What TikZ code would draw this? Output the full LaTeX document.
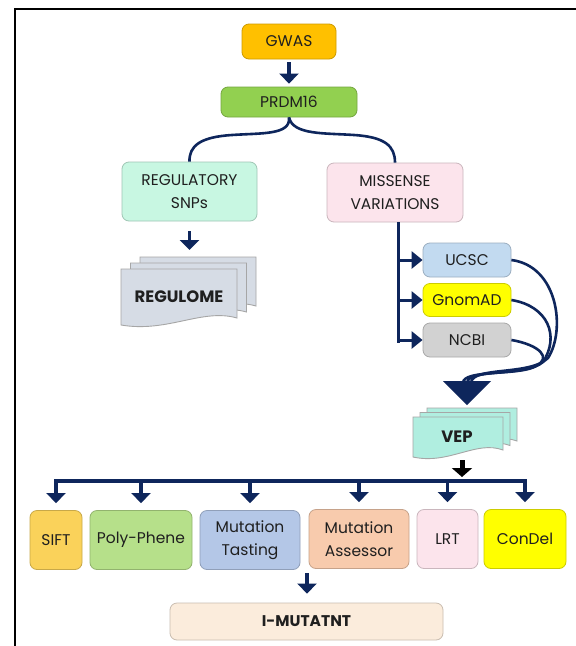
\documentclass[tikz,border=0pt]{standalone}
\usepackage{fontspec}
\setmainfont{Poppins}
\usepackage{xcolor}
\usepackage{tikz}
\usetikzlibrary{calc, arrows.meta, positioning}
\definecolor{navy}{RGB}{14,38,92}
\definecolor{gwasorange}{RGB}{255,192,0}
\definecolor{prdmgreen}{RGB}{146,208,80}
\definecolor{mint}{RGB}{200,247,226}
\definecolor{softpink}{RGB}{252,228,236}
\definecolor{ucscblue}{RGB}{194,218,240}
\definecolor{brightyellow}{RGB}{255,255,0}
\definecolor{ncbigray}{RGB}{210,210,210}
\definecolor{pagegray}{RGB}{214,220,229}
\definecolor{vepaqua}{RGB}{176,238,224}
\definecolor{siftyellow}{RGB}{250,210,90}
\definecolor{polygreen}{RGB}{182,224,138}
\definecolor{steelblue}{RGB}{180,199,231}
\definecolor{peach}{RGB}{248,203,173}
\definecolor{beige}{RGB}{251,236,220}
% stack of three pages with a wavy lower edge
\newcommand{\docstack}[7]{% x0, y0, x1, y1, dx, dy, fill
  \foreach \o in {2,1,0}{
    \draw[draw=black!35, fill=#7, line width=0.9pt]
      ({#1+\o*#5},{#2-\o*#6}) -- ({#3+\o*#5},{#2-\o*#6}) -- ({#3+\o*#5},{#4-\o*#6-7})
      .. controls ({#3+\o*#5-0.3*(#3-#1)},{#4-\o*#6-17}) and ({#1+\o*#5+0.4*(#3-#1)},{#4-\o*#6+8}) ..
      ({#1+\o*#5},{#4-\o*#6}) -- cycle;
  }}

\begin{document}
\begin{tikzpicture}[
  x=1pt, y=-1pt,
  every node/.style={font=\fontsize{15.5}{23}\selectfont, text=black!88, align=center, inner sep=0pt},
  box/.style={fill=#1, draw=#1!80!black, line width=0.8pt, rounded corners=7pt},
  arr/.style={navy, line width=3.6pt, -{Triangle[width=19pt,length=10pt]}},
  branch/.style={navy, line width=3pt, -{Triangle[width=17pt,length=11pt]}},
  wire/.style={navy, line width=2.6pt},
  heavy/.style={font=\fontsize{16.5}{23}\selectfont\bfseries}
]
\useasboundingbox (0,0) rectangle (576,646);
\fill[white] (0,0) rectangle (576,646);
\clip (0,0) rectangle (576,646);
\draw[line width=2.5pt] (15,9) rectangle (620,700);

% top of the chain
\node[box=gwasorange, minimum width=94pt, minimum height=35pt] (gwas) at (289,41.5) {GWAS};
\node[box=prdmgreen, minimum width=136pt, minimum height=30pt] (prdm) at (289,102) {PRDM16};
\draw[arr, shorten <=3pt, shorten >=3pt] (gwas) -- (prdm);

\node[box=mint, minimum width=135pt, minimum height=59pt] (reg) at (189.5,191.5) {REGULATORY\\SNPs};
\node[box=softpink, minimum width=136pt, minimum height=59pt] (miss) at (395,192.5) {MISSENSE\\VARIATIONS};
\draw[wire] (prdm.south) .. controls (291,135) and (262,133) .. (232,135)
  .. controls (200,137) and (189,146) .. (reg.north);
\draw[wire] (prdm.south) .. controls (293,135) and (324,133) .. (354,135)
  .. controls (385,137) and (395,146) .. (miss.north);

% regulome
\docstack{121}{269}{237}{325}{9.5}{6}{pagegray}
\node[heavy] (regulome) at (179,297) {REGULOME};
\coordinate (regtop) at (189.5,250);
\draw[arr, shorten <=10pt] (reg.south) -- (regtop);

% databases
\node[box=ucscblue, minimum width=88pt, minimum height=34pt] (ucsc) at (467,260) {UCSC};
\node[box=brightyellow, minimum width=88pt, minimum height=33pt] (gnomad) at (467,300) {GnomAD};
\node[box=ncbigray, minimum width=88pt, minimum height=34pt] (ncbi) at (467,340) {NCBI};
\coordinate (trunk) at (398,343);
\draw[navy, line width=3pt] (miss.south -| trunk) -- (trunk);
\foreach \n in {ucsc,gnomad,ncbi}{
  \draw[branch] (\n.west -| trunk) -- (\n.west);
}
\coordinate (merge) at (467,381);
\draw[wire] (ucsc.east) .. controls (558,266) and (566,330) .. (548,358)
  .. controls (530,376) and (472,366) .. ($(merge)+(4,2)$);
\draw[wire] (gnomad.east) .. controls (548,306) and (560,336) .. (543,362)
  .. controls (526,377) and (468,368) .. ($(merge)+(0,2)$);
\draw[wire] (ncbi.east) .. controls (540,345) and (552,358) .. (536,366)
  .. controls (520,376) and (463,369) .. ($(merge)+(-4,2)$);
\fill[navy] (443,381) -- (491,381) -- (467,405) -- cycle;

% vep
\docstack{413}{417}{503}{457}{7}{4.5}{vepaqua}
\node[heavy] (vep) at (457,437) {VEP};
\coordinate (vepout) at (462,460);
\coordinate (busL) at (56,481);
\coordinate (busR) at (525,481);
\draw[black, line width=5pt, -{Triangle[width=20pt,length=9pt]}, shorten >=4pt] (vepout) -- (vepout |- busL);

% predictors
\node[box=siftyellow, minimum width=52pt, minimum height=59pt] (sift) at (56,540) {SIFT};
\node[box=polygreen, minimum width=102pt, minimum height=59pt] (poly) at (141,540) {Poly-Phene};
\node[box=steelblue, minimum width=100pt, minimum height=59pt] (tasting) at (250,540) {Mutation\\Tasting};
\node[box=peach, minimum width=100pt, minimum height=59pt] (assessor) at (359,539) {Mutation\\Assessor};
\node[box=softpink, minimum width=61pt, minimum height=59pt] (lrt) at (447.5,539) {LRT};
\node[box=brightyellow, minimum width=82pt, minimum height=59pt] (condel) at (525,539) {ConDel};
\draw[navy, line width=3.2pt] ([xshift=-1.6pt]busL) -- ([xshift=1.6pt]busR);
\foreach \n in {sift,poly,tasting,assessor,lrt,condel}{
  \draw[arr, shorten >=7pt] (busL -| \n.north) -- (\n.north);
}

\node[box=beige, minimum width=273pt, minimum height=37pt, font=\fontsize{15.5}{23}\selectfont\bfseries] (imut) at (306.5,621.5) {I-MUTATNT};
\coordinate (tapout) at (307,573);
\draw[arr, shorten >=9pt] (tapout) -- (tapout |- imut.north);
\end{tikzpicture}
\end{document}
